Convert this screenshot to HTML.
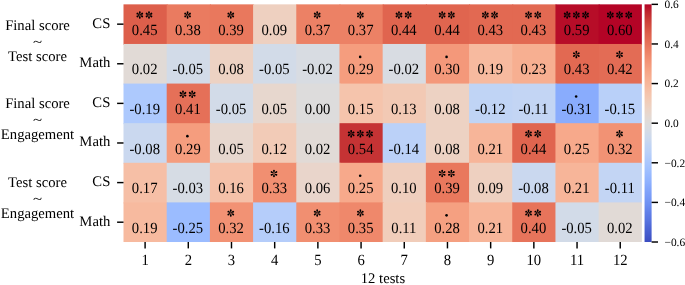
<!DOCTYPE html><html><head><meta charset="utf-8"><style>html,body{margin:0;padding:0;background:#fff;}svg{display:block;will-change:transform;filter:blur(0.3px);}text{font-family:"Liberation Serif",serif;fill:#000;text-rendering:geometricPrecision;}</style></head><body>
<svg width="685" height="285" viewBox="0 0 685 285">
<defs><linearGradient id="cb" x1="0" y1="0" x2="0" y2="1">
<stop offset="0.0000" stop-color="#b40426"/>
<stop offset="0.0312" stop-color="#be242e"/>
<stop offset="0.0625" stop-color="#ca3b37"/>
<stop offset="0.0938" stop-color="#d44e41"/>
<stop offset="0.1250" stop-color="#de614d"/>
<stop offset="0.1562" stop-color="#e46e56"/>
<stop offset="0.1875" stop-color="#eb7d62"/>
<stop offset="0.2188" stop-color="#f08b6e"/>
<stop offset="0.2500" stop-color="#f4987a"/>
<stop offset="0.2812" stop-color="#f6a586"/>
<stop offset="0.3125" stop-color="#f7b093"/>
<stop offset="0.3438" stop-color="#f7ba9f"/>
<stop offset="0.3750" stop-color="#f5c4ac"/>
<stop offset="0.4062" stop-color="#f1ccb8"/>
<stop offset="0.4375" stop-color="#ecd3c5"/>
<stop offset="0.4688" stop-color="#e5d8d1"/>
<stop offset="0.5000" stop-color="#dddcdc"/>
<stop offset="0.5312" stop-color="#d5dbe5"/>
<stop offset="0.5625" stop-color="#ccd9ed"/>
<stop offset="0.5938" stop-color="#c1d4f4"/>
<stop offset="0.6250" stop-color="#b9d0f9"/>
<stop offset="0.6562" stop-color="#aec9fc"/>
<stop offset="0.6875" stop-color="#a3c2fe"/>
<stop offset="0.7188" stop-color="#98b9ff"/>
<stop offset="0.7500" stop-color="#8db0fe"/>
<stop offset="0.7812" stop-color="#81a4fb"/>
<stop offset="0.8125" stop-color="#779af7"/>
<stop offset="0.8438" stop-color="#6c8ff1"/>
<stop offset="0.8750" stop-color="#6180e9"/>
<stop offset="0.9062" stop-color="#5875e1"/>
<stop offset="0.9375" stop-color="#4c66d6"/>
<stop offset="0.9688" stop-color="#445acc"/>
<stop offset="1.0000" stop-color="#3b4cc0"/>
</linearGradient>
<g id="st"><g transform="scale(1.1)"><path d="M0,0 C-0.25,-0.9 -0.85,-1.9 -0.85,-2.55 A0.85,0.85 0 0 1 0.85,-2.55 C0.85,-1.9 0.25,-0.9 0,0 Z" transform="rotate(0)"/><path d="M0,0 C-0.25,-0.9 -0.85,-1.9 -0.85,-2.55 A0.85,0.85 0 0 1 0.85,-2.55 C0.85,-1.9 0.25,-0.9 0,0 Z" transform="rotate(60)"/><path d="M0,0 C-0.25,-0.9 -0.85,-1.9 -0.85,-2.55 A0.85,0.85 0 0 1 0.85,-2.55 C0.85,-1.9 0.25,-0.9 0,0 Z" transform="rotate(120)"/><path d="M0,0 C-0.25,-0.9 -0.85,-1.9 -0.85,-2.55 A0.85,0.85 0 0 1 0.85,-2.55 C0.85,-1.9 0.25,-0.9 0,0 Z" transform="rotate(180)"/><path d="M0,0 C-0.25,-0.9 -0.85,-1.9 -0.85,-2.55 A0.85,0.85 0 0 1 0.85,-2.55 C0.85,-1.9 0.25,-0.9 0,0 Z" transform="rotate(240)"/><path d="M0,0 C-0.25,-0.9 -0.85,-1.9 -0.85,-2.55 A0.85,0.85 0 0 1 0.85,-2.55 C0.85,-1.9 0.25,-0.9 0,0 Z" transform="rotate(300)"/></g></g>
</defs>
<rect x="123.500" y="4.350" width="44.195" height="40.610" fill="#dd5f4b"/>
<rect x="166.695" y="4.350" width="44.195" height="40.610" fill="#ea7b60"/>
<rect x="209.890" y="4.350" width="44.195" height="40.610" fill="#e9785d"/>
<rect x="253.085" y="4.350" width="44.195" height="40.610" fill="#eed0c0"/>
<rect x="296.280" y="4.350" width="44.195" height="40.610" fill="#ec8165"/>
<rect x="339.475" y="4.350" width="44.195" height="40.610" fill="#ec8165"/>
<rect x="382.670" y="4.350" width="44.195" height="40.610" fill="#e0654f"/>
<rect x="425.865" y="4.350" width="44.195" height="40.610" fill="#e0654f"/>
<rect x="469.060" y="4.350" width="44.195" height="40.610" fill="#e26952"/>
<rect x="512.255" y="4.350" width="44.195" height="40.610" fill="#e26952"/>
<rect x="555.450" y="4.350" width="44.195" height="40.610" fill="#b70d28"/>
<rect x="598.645" y="4.350" width="43.195" height="40.610" fill="#b40426"/>
<rect x="123.500" y="43.960" width="44.195" height="40.610" fill="#e1dad6"/>
<rect x="166.695" y="43.960" width="44.195" height="40.610" fill="#d2dbe8"/>
<rect x="209.890" y="43.960" width="44.195" height="40.610" fill="#edd2c3"/>
<rect x="253.085" y="43.960" width="44.195" height="40.610" fill="#d2dbe8"/>
<rect x="296.280" y="43.960" width="44.195" height="40.610" fill="#d8dce2"/>
<rect x="339.475" y="43.960" width="44.195" height="40.610" fill="#f59d7e"/>
<rect x="382.670" y="43.960" width="44.195" height="40.610" fill="#d8dce2"/>
<rect x="425.865" y="43.960" width="44.195" height="40.610" fill="#f4987a"/>
<rect x="469.060" y="43.960" width="44.195" height="40.610" fill="#f7ba9f"/>
<rect x="512.255" y="43.960" width="44.195" height="40.610" fill="#f7af91"/>
<rect x="555.450" y="43.960" width="44.195" height="40.610" fill="#e26952"/>
<rect x="598.645" y="43.960" width="43.195" height="40.610" fill="#e36c55"/>
<rect x="123.500" y="83.570" width="44.195" height="40.610" fill="#adc9fd"/>
<rect x="166.695" y="83.570" width="44.195" height="40.610" fill="#e57058"/>
<rect x="209.890" y="83.570" width="44.195" height="40.610" fill="#d2dbe8"/>
<rect x="253.085" y="83.570" width="44.195" height="40.610" fill="#e7d7ce"/>
<rect x="296.280" y="83.570" width="44.195" height="40.610" fill="#dddcdc"/>
<rect x="339.475" y="83.570" width="44.195" height="40.610" fill="#f5c4ac"/>
<rect x="382.670" y="83.570" width="44.195" height="40.610" fill="#f2c9b4"/>
<rect x="425.865" y="83.570" width="44.195" height="40.610" fill="#edd2c3"/>
<rect x="469.060" y="83.570" width="44.195" height="40.610" fill="#c0d4f5"/>
<rect x="512.255" y="83.570" width="44.195" height="40.610" fill="#c3d5f4"/>
<rect x="555.450" y="83.570" width="44.195" height="40.610" fill="#89acfd"/>
<rect x="598.645" y="83.570" width="43.195" height="40.610" fill="#b9d0f9"/>
<rect x="123.500" y="123.180" width="44.195" height="40.610" fill="#cad8ef"/>
<rect x="166.695" y="123.180" width="44.195" height="40.610" fill="#f59d7e"/>
<rect x="209.890" y="123.180" width="44.195" height="40.610" fill="#e7d7ce"/>
<rect x="253.085" y="123.180" width="44.195" height="40.610" fill="#f2cbb7"/>
<rect x="296.280" y="123.180" width="44.195" height="40.610" fill="#e1dad6"/>
<rect x="339.475" y="123.180" width="44.195" height="40.610" fill="#c53334"/>
<rect x="382.670" y="123.180" width="44.195" height="40.610" fill="#bbd1f8"/>
<rect x="425.865" y="123.180" width="44.195" height="40.610" fill="#edd2c3"/>
<rect x="469.060" y="123.180" width="44.195" height="40.610" fill="#f7b599"/>
<rect x="512.255" y="123.180" width="44.195" height="40.610" fill="#e0654f"/>
<rect x="555.450" y="123.180" width="44.195" height="40.610" fill="#f7a98b"/>
<rect x="598.645" y="123.180" width="43.195" height="40.610" fill="#f29274"/>
<rect x="123.500" y="162.790" width="44.195" height="40.610" fill="#f6bfa6"/>
<rect x="166.695" y="162.790" width="44.195" height="40.610" fill="#d6dce4"/>
<rect x="209.890" y="162.790" width="44.195" height="40.610" fill="#f5c1a9"/>
<rect x="253.085" y="162.790" width="44.195" height="40.610" fill="#f18f71"/>
<rect x="296.280" y="162.790" width="44.195" height="40.610" fill="#e9d5cb"/>
<rect x="339.475" y="162.790" width="44.195" height="40.610" fill="#f7a98b"/>
<rect x="382.670" y="162.790" width="44.195" height="40.610" fill="#efcebd"/>
<rect x="425.865" y="162.790" width="44.195" height="40.610" fill="#e9785d"/>
<rect x="469.060" y="162.790" width="44.195" height="40.610" fill="#eed0c0"/>
<rect x="512.255" y="162.790" width="44.195" height="40.610" fill="#cad8ef"/>
<rect x="555.450" y="162.790" width="44.195" height="40.610" fill="#f7b599"/>
<rect x="598.645" y="162.790" width="43.195" height="40.610" fill="#c3d5f4"/>
<rect x="123.500" y="202.400" width="44.195" height="39.610" fill="#f7ba9f"/>
<rect x="166.695" y="202.400" width="44.195" height="39.610" fill="#9bbcff"/>
<rect x="209.890" y="202.400" width="44.195" height="39.610" fill="#f29274"/>
<rect x="253.085" y="202.400" width="44.195" height="39.610" fill="#b5cdfa"/>
<rect x="296.280" y="202.400" width="44.195" height="39.610" fill="#f18f71"/>
<rect x="339.475" y="202.400" width="44.195" height="39.610" fill="#ef886b"/>
<rect x="382.670" y="202.400" width="44.195" height="39.610" fill="#f1cdba"/>
<rect x="425.865" y="202.400" width="44.195" height="39.610" fill="#f5a081"/>
<rect x="469.060" y="202.400" width="44.195" height="39.610" fill="#f7b599"/>
<rect x="512.255" y="202.400" width="44.195" height="39.610" fill="#e7745b"/>
<rect x="555.450" y="202.400" width="44.195" height="39.610" fill="#d2dbe8"/>
<rect x="598.645" y="202.400" width="43.195" height="39.610" fill="#e1dad6"/>
<text transform="translate(144.70 34.70) scale(1 1.060)" font-size="14.67" text-anchor="middle">0.45</text>
<use href="#st" x="139.80" y="15.00" fill="#000"/>
<use href="#st" x="149.00" y="15.00" fill="#000"/>
<text transform="translate(187.89 34.70) scale(1 1.060)" font-size="14.67" text-anchor="middle">0.38</text>
<use href="#st" x="187.59" y="15.00" fill="#000"/>
<text transform="translate(231.09 34.70) scale(1 1.060)" font-size="14.67" text-anchor="middle">0.39</text>
<use href="#st" x="230.79" y="15.00" fill="#000"/>
<text transform="translate(274.28 34.70) scale(1 1.060)" font-size="14.67" text-anchor="middle">0.09</text>
<text transform="translate(317.48 34.70) scale(1 1.060)" font-size="14.67" text-anchor="middle">0.37</text>
<use href="#st" x="317.18" y="15.00" fill="#000"/>
<text transform="translate(360.67 34.70) scale(1 1.060)" font-size="14.67" text-anchor="middle">0.37</text>
<use href="#st" x="360.37" y="15.00" fill="#000"/>
<text transform="translate(403.87 34.70) scale(1 1.060)" font-size="14.67" text-anchor="middle">0.44</text>
<use href="#st" x="398.97" y="15.00" fill="#000"/>
<use href="#st" x="408.17" y="15.00" fill="#000"/>
<text transform="translate(447.06 34.70) scale(1 1.060)" font-size="14.67" text-anchor="middle">0.44</text>
<use href="#st" x="442.16" y="15.00" fill="#000"/>
<use href="#st" x="451.36" y="15.00" fill="#000"/>
<text transform="translate(490.26 34.70) scale(1 1.060)" font-size="14.67" text-anchor="middle">0.43</text>
<use href="#st" x="485.36" y="15.00" fill="#000"/>
<use href="#st" x="494.56" y="15.00" fill="#000"/>
<text transform="translate(533.45 34.70) scale(1 1.060)" font-size="14.67" text-anchor="middle">0.43</text>
<use href="#st" x="528.55" y="15.00" fill="#000"/>
<use href="#st" x="537.75" y="15.00" fill="#000"/>
<text transform="translate(576.65 34.70) scale(1 1.060)" font-size="14.67" text-anchor="middle">0.59</text>
<use href="#st" x="567.15" y="15.00" fill="#000"/>
<use href="#st" x="576.35" y="15.00" fill="#000"/>
<use href="#st" x="585.55" y="15.00" fill="#000"/>
<text transform="translate(619.84 34.70) scale(1 1.060)" font-size="14.67" text-anchor="middle">0.60</text>
<use href="#st" x="610.34" y="15.00" fill="#000"/>
<use href="#st" x="619.54" y="15.00" fill="#000"/>
<use href="#st" x="628.74" y="15.00" fill="#000"/>
<text transform="translate(144.70 74.31) scale(1 1.060)" font-size="14.67" text-anchor="middle">0.02</text>
<text transform="translate(187.89 74.31) scale(1 1.060)" font-size="14.67" text-anchor="middle">-0.05</text>
<text transform="translate(231.09 74.31) scale(1 1.060)" font-size="14.67" text-anchor="middle">0.08</text>
<text transform="translate(274.28 74.31) scale(1 1.060)" font-size="14.67" text-anchor="middle">-0.05</text>
<text transform="translate(317.48 74.31) scale(1 1.060)" font-size="14.67" text-anchor="middle">-0.02</text>
<text transform="translate(360.67 74.31) scale(1 1.060)" font-size="14.67" text-anchor="middle">0.29</text>
<circle cx="360.17" cy="56.91" r="1.30" fill="#000"/>
<text transform="translate(403.87 74.31) scale(1 1.060)" font-size="14.67" text-anchor="middle">-0.02</text>
<text transform="translate(447.06 74.31) scale(1 1.060)" font-size="14.67" text-anchor="middle">0.30</text>
<circle cx="446.56" cy="56.91" r="1.30" fill="#000"/>
<text transform="translate(490.26 74.31) scale(1 1.060)" font-size="14.67" text-anchor="middle">0.19</text>
<text transform="translate(533.45 74.31) scale(1 1.060)" font-size="14.67" text-anchor="middle">0.23</text>
<text transform="translate(576.65 74.31) scale(1 1.060)" font-size="14.67" text-anchor="middle">0.43</text>
<use href="#st" x="576.35" y="54.61" fill="#000"/>
<text transform="translate(619.84 74.31) scale(1 1.060)" font-size="14.67" text-anchor="middle">0.42</text>
<use href="#st" x="619.54" y="54.61" fill="#000"/>
<text transform="translate(144.70 113.92) scale(1 1.060)" font-size="14.67" text-anchor="middle">-0.19</text>
<text transform="translate(187.89 113.92) scale(1 1.060)" font-size="14.67" text-anchor="middle">0.41</text>
<use href="#st" x="182.99" y="94.22" fill="#000"/>
<use href="#st" x="192.19" y="94.22" fill="#000"/>
<text transform="translate(231.09 113.92) scale(1 1.060)" font-size="14.67" text-anchor="middle">-0.05</text>
<text transform="translate(274.28 113.92) scale(1 1.060)" font-size="14.67" text-anchor="middle">0.05</text>
<text transform="translate(317.48 113.92) scale(1 1.060)" font-size="14.67" text-anchor="middle">0.00</text>
<text transform="translate(360.67 113.92) scale(1 1.060)" font-size="14.67" text-anchor="middle">0.15</text>
<text transform="translate(403.87 113.92) scale(1 1.060)" font-size="14.67" text-anchor="middle">0.13</text>
<text transform="translate(447.06 113.92) scale(1 1.060)" font-size="14.67" text-anchor="middle">0.08</text>
<text transform="translate(490.26 113.92) scale(1 1.060)" font-size="14.67" text-anchor="middle">-0.12</text>
<text transform="translate(533.45 113.92) scale(1 1.060)" font-size="14.67" text-anchor="middle">-0.11</text>
<text transform="translate(576.65 113.92) scale(1 1.060)" font-size="14.67" text-anchor="middle">-0.31</text>
<circle cx="576.15" cy="96.52" r="1.30" fill="#000"/>
<text transform="translate(619.84 113.92) scale(1 1.060)" font-size="14.67" text-anchor="middle">-0.15</text>
<text transform="translate(144.70 153.53) scale(1 1.060)" font-size="14.67" text-anchor="middle">-0.08</text>
<text transform="translate(187.89 153.53) scale(1 1.060)" font-size="14.67" text-anchor="middle">0.29</text>
<circle cx="187.39" cy="136.13" r="1.30" fill="#000"/>
<text transform="translate(231.09 153.53) scale(1 1.060)" font-size="14.67" text-anchor="middle">0.05</text>
<text transform="translate(274.28 153.53) scale(1 1.060)" font-size="14.67" text-anchor="middle">0.12</text>
<text transform="translate(317.48 153.53) scale(1 1.060)" font-size="14.67" text-anchor="middle">0.02</text>
<text transform="translate(360.67 153.53) scale(1 1.060)" font-size="14.67" text-anchor="middle">0.54</text>
<use href="#st" x="351.17" y="133.83" fill="#000"/>
<use href="#st" x="360.37" y="133.83" fill="#000"/>
<use href="#st" x="369.57" y="133.83" fill="#000"/>
<text transform="translate(403.87 153.53) scale(1 1.060)" font-size="14.67" text-anchor="middle">-0.14</text>
<text transform="translate(447.06 153.53) scale(1 1.060)" font-size="14.67" text-anchor="middle">0.08</text>
<text transform="translate(490.26 153.53) scale(1 1.060)" font-size="14.67" text-anchor="middle">0.21</text>
<text transform="translate(533.45 153.53) scale(1 1.060)" font-size="14.67" text-anchor="middle">0.44</text>
<use href="#st" x="528.55" y="133.83" fill="#000"/>
<use href="#st" x="537.75" y="133.83" fill="#000"/>
<text transform="translate(576.65 153.53) scale(1 1.060)" font-size="14.67" text-anchor="middle">0.25</text>
<text transform="translate(619.84 153.53) scale(1 1.060)" font-size="14.67" text-anchor="middle">0.32</text>
<use href="#st" x="619.54" y="133.83" fill="#000"/>
<text transform="translate(144.70 193.14) scale(1 1.060)" font-size="14.67" text-anchor="middle">0.17</text>
<text transform="translate(187.89 193.14) scale(1 1.060)" font-size="14.67" text-anchor="middle">-0.03</text>
<text transform="translate(231.09 193.14) scale(1 1.060)" font-size="14.67" text-anchor="middle">0.16</text>
<text transform="translate(274.28 193.14) scale(1 1.060)" font-size="14.67" text-anchor="middle">0.33</text>
<use href="#st" x="273.98" y="173.44" fill="#000"/>
<text transform="translate(317.48 193.14) scale(1 1.060)" font-size="14.67" text-anchor="middle">0.06</text>
<text transform="translate(360.67 193.14) scale(1 1.060)" font-size="14.67" text-anchor="middle">0.25</text>
<circle cx="360.17" cy="175.74" r="1.30" fill="#000"/>
<text transform="translate(403.87 193.14) scale(1 1.060)" font-size="14.67" text-anchor="middle">0.10</text>
<text transform="translate(447.06 193.14) scale(1 1.060)" font-size="14.67" text-anchor="middle">0.39</text>
<use href="#st" x="442.16" y="173.44" fill="#000"/>
<use href="#st" x="451.36" y="173.44" fill="#000"/>
<text transform="translate(490.26 193.14) scale(1 1.060)" font-size="14.67" text-anchor="middle">0.09</text>
<text transform="translate(533.45 193.14) scale(1 1.060)" font-size="14.67" text-anchor="middle">-0.08</text>
<text transform="translate(576.65 193.14) scale(1 1.060)" font-size="14.67" text-anchor="middle">0.21</text>
<text transform="translate(619.84 193.14) scale(1 1.060)" font-size="14.67" text-anchor="middle">-0.11</text>
<text transform="translate(144.70 232.75) scale(1 1.060)" font-size="14.67" text-anchor="middle">0.19</text>
<text transform="translate(187.89 232.75) scale(1 1.060)" font-size="14.67" text-anchor="middle">-0.25</text>
<text transform="translate(231.09 232.75) scale(1 1.060)" font-size="14.67" text-anchor="middle">0.32</text>
<use href="#st" x="230.79" y="213.05" fill="#000"/>
<text transform="translate(274.28 232.75) scale(1 1.060)" font-size="14.67" text-anchor="middle">-0.16</text>
<text transform="translate(317.48 232.75) scale(1 1.060)" font-size="14.67" text-anchor="middle">0.33</text>
<use href="#st" x="317.18" y="213.05" fill="#000"/>
<text transform="translate(360.67 232.75) scale(1 1.060)" font-size="14.67" text-anchor="middle">0.35</text>
<use href="#st" x="360.37" y="213.05" fill="#000"/>
<text transform="translate(403.87 232.75) scale(1 1.060)" font-size="14.67" text-anchor="middle">0.11</text>
<text transform="translate(447.06 232.75) scale(1 1.060)" font-size="14.67" text-anchor="middle">0.28</text>
<circle cx="446.56" cy="215.35" r="1.30" fill="#000"/>
<text transform="translate(490.26 232.75) scale(1 1.060)" font-size="14.67" text-anchor="middle">0.21</text>
<text transform="translate(533.45 232.75) scale(1 1.060)" font-size="14.67" text-anchor="middle">0.40</text>
<use href="#st" x="528.55" y="213.05" fill="#000"/>
<use href="#st" x="537.75" y="213.05" fill="#000"/>
<text transform="translate(576.65 232.75) scale(1 1.060)" font-size="14.67" text-anchor="middle">-0.05</text>
<text transform="translate(619.84 232.75) scale(1 1.060)" font-size="14.67" text-anchor="middle">0.02</text>
<rect x="644.550" y="4.350" width="7.050" height="237.660" fill="url(#cb)"/>
<line x1="651.60" y1="4.35" x2="658.00" y2="4.35" stroke="#000" stroke-width="1.45"/>
<text x="664.50" y="8.15" font-size="11.40">0.6</text>
<line x1="651.60" y1="43.96" x2="658.00" y2="43.96" stroke="#000" stroke-width="1.45"/>
<text x="664.50" y="47.76" font-size="11.40">0.4</text>
<line x1="651.60" y1="83.57" x2="658.00" y2="83.57" stroke="#000" stroke-width="1.45"/>
<text x="664.50" y="87.37" font-size="11.40">0.2</text>
<line x1="651.60" y1="123.18" x2="658.00" y2="123.18" stroke="#000" stroke-width="1.45"/>
<text x="664.50" y="126.98" font-size="11.40">0.0</text>
<line x1="651.60" y1="162.79" x2="658.00" y2="162.79" stroke="#000" stroke-width="1.45"/>
<text x="664.50" y="166.59" font-size="11.40">−0.2</text>
<line x1="651.60" y1="202.40" x2="658.00" y2="202.40" stroke="#000" stroke-width="1.45"/>
<text x="664.50" y="206.20" font-size="11.40">−0.4</text>
<line x1="651.60" y1="242.01" x2="658.00" y2="242.01" stroke="#000" stroke-width="1.45"/>
<text x="664.50" y="245.81" font-size="11.40">−0.6</text>
<line x1="117.10" y1="24.16" x2="123.50" y2="24.16" stroke="#000" stroke-width="1.45"/>
<text x="110.30" y="27.55" font-size="14.67" text-anchor="end">CS</text>
<line x1="117.10" y1="63.77" x2="123.50" y2="63.77" stroke="#000" stroke-width="1.45"/>
<text x="110.30" y="67.17" font-size="14.67" text-anchor="end">Math</text>
<line x1="117.10" y1="103.38" x2="123.50" y2="103.38" stroke="#000" stroke-width="1.45"/>
<text x="110.30" y="106.78" font-size="14.67" text-anchor="end">CS</text>
<line x1="117.10" y1="142.98" x2="123.50" y2="142.98" stroke="#000" stroke-width="1.45"/>
<text x="110.30" y="146.38" font-size="14.67" text-anchor="end">Math</text>
<line x1="117.10" y1="182.59" x2="123.50" y2="182.59" stroke="#000" stroke-width="1.45"/>
<text x="110.30" y="186.00" font-size="14.67" text-anchor="end">CS</text>
<line x1="117.10" y1="222.20" x2="123.50" y2="222.20" stroke="#000" stroke-width="1.45"/>
<text x="110.30" y="225.60" font-size="14.67" text-anchor="end">Math</text>
<line x1="145.10" y1="242.01" x2="145.10" y2="248.41" stroke="#000" stroke-width="1.45"/>
<text transform="translate(145.10 265.35) scale(1 1.060)" font-size="14.67" text-anchor="middle">1</text>
<line x1="188.29" y1="242.01" x2="188.29" y2="248.41" stroke="#000" stroke-width="1.45"/>
<text transform="translate(188.29 265.35) scale(1 1.060)" font-size="14.67" text-anchor="middle">2</text>
<line x1="231.49" y1="242.01" x2="231.49" y2="248.41" stroke="#000" stroke-width="1.45"/>
<text transform="translate(231.49 265.35) scale(1 1.060)" font-size="14.67" text-anchor="middle">3</text>
<line x1="274.68" y1="242.01" x2="274.68" y2="248.41" stroke="#000" stroke-width="1.45"/>
<text transform="translate(274.68 265.35) scale(1 1.060)" font-size="14.67" text-anchor="middle">4</text>
<line x1="317.88" y1="242.01" x2="317.88" y2="248.41" stroke="#000" stroke-width="1.45"/>
<text transform="translate(317.88 265.35) scale(1 1.060)" font-size="14.67" text-anchor="middle">5</text>
<line x1="361.07" y1="242.01" x2="361.07" y2="248.41" stroke="#000" stroke-width="1.45"/>
<text transform="translate(361.07 265.35) scale(1 1.060)" font-size="14.67" text-anchor="middle">6</text>
<line x1="404.27" y1="242.01" x2="404.27" y2="248.41" stroke="#000" stroke-width="1.45"/>
<text transform="translate(404.27 265.35) scale(1 1.060)" font-size="14.67" text-anchor="middle">7</text>
<line x1="447.46" y1="242.01" x2="447.46" y2="248.41" stroke="#000" stroke-width="1.45"/>
<text transform="translate(447.46 265.35) scale(1 1.060)" font-size="14.67" text-anchor="middle">8</text>
<line x1="490.66" y1="242.01" x2="490.66" y2="248.41" stroke="#000" stroke-width="1.45"/>
<text transform="translate(490.66 265.35) scale(1 1.060)" font-size="14.67" text-anchor="middle">9</text>
<line x1="533.85" y1="242.01" x2="533.85" y2="248.41" stroke="#000" stroke-width="1.45"/>
<text transform="translate(533.85 265.35) scale(1 1.060)" font-size="14.67" text-anchor="middle">10</text>
<line x1="577.05" y1="242.01" x2="577.05" y2="248.41" stroke="#000" stroke-width="1.45"/>
<text transform="translate(577.05 265.35) scale(1 1.060)" font-size="14.67" text-anchor="middle">11</text>
<line x1="620.24" y1="242.01" x2="620.24" y2="248.41" stroke="#000" stroke-width="1.45"/>
<text transform="translate(620.24 265.35) scale(1 1.060)" font-size="14.67" text-anchor="middle">12</text>
<text x="382.97" y="283.40" font-size="14.67" text-anchor="middle">12 tests</text>
<text x="37.5" y="29.90" font-size="14.67" text-anchor="middle">Final score</text>
<text transform="translate(37.45 45.75) scale(1.15 0.85)" font-size="14.67" text-anchor="middle">~</text>
<text x="37.5" y="61.20" font-size="14.67" text-anchor="middle">Test score</text>
<text x="37.5" y="108.20" font-size="14.67" text-anchor="middle">Final score</text>
<text transform="translate(37.45 123.75) scale(1.15 0.85)" font-size="14.67" text-anchor="middle">~</text>
<text x="37.5" y="138.90" font-size="14.67" text-anchor="middle">Engagement</text>
<text x="37.5" y="186.60" font-size="14.67" text-anchor="middle">Test score</text>
<text transform="translate(37.45 202.65) scale(1.15 0.85)" font-size="14.67" text-anchor="middle">~</text>
<text x="37.5" y="217.90" font-size="14.67" text-anchor="middle">Engagement</text>
</svg></body></html>
